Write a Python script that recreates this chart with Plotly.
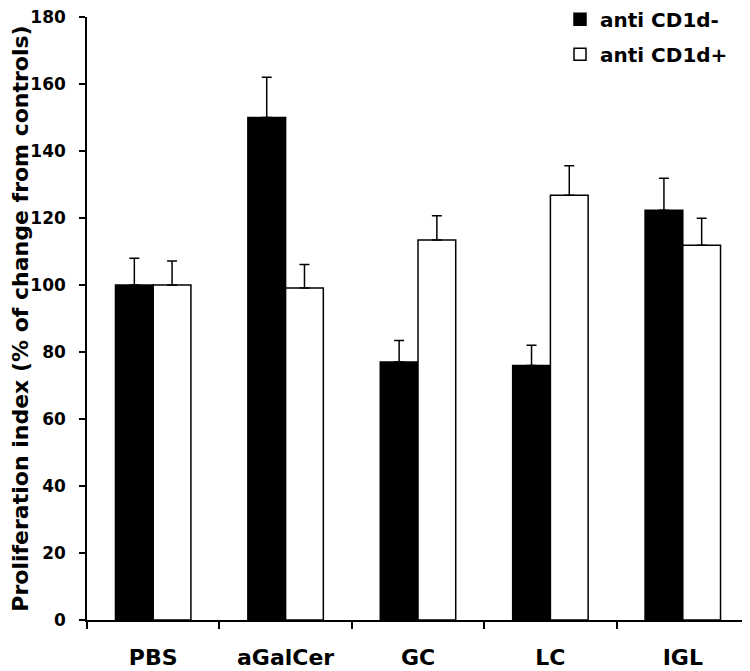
import plotly.graph_objects as go

categories = ["PBS", "aGalCer", "GC", "LC", "IGL"]
series_names = ["anti CD1d-", "anti CD1d+"]
values_neg = [100, 150, 77, 76, 122.3]
errors_neg = [8, 12, 6.4, 6, 9.6]
values_pos = [100, 99.1, 113.4, 126.8, 111.9]
errors_pos = [7.2, 7, 7.3, 8.8, 8]
y_ticks = [0, 20, 40, 60, 80, 100, 120, 140, 160, 180]
y_title = "Proliferation index (% of change from controls)"

FONT = "DejaVu Sans, Liberation Sans, Arial"

fig = go.Figure()
fig.add_trace(go.Bar(
    x=categories, y=values_neg, name=series_names[0], legendgroup="a",
    marker=dict(color="black", line=dict(color="black", width=1.5)),
    error_y=dict(type="data", array=errors_neg, arrayminus=[0]*len(errors_neg),
                 symmetric=False, color="black", thickness=1.5, width=5),
))
fig.add_trace(go.Bar(
    x=categories, y=values_pos, name=series_names[1], legendgroup="b",
    marker=dict(color="white", line=dict(color="black", width=1.5)),
    error_y=dict(type="data", array=errors_pos, arrayminus=[0]*len(errors_pos),
                 symmetric=False, color="black", thickness=1.5, width=5),
))

# page body has an 8px margin, so the figure is sized/offset to compensate
fig.update_layout(
    width=742, height=663,
    margin=dict(l=79, r=1, t=9, b=51, autoexpand=False),
    paper_bgcolor="white", plot_bgcolor="white",
    barmode="group", bargap=0.43, bargroupgap=0,
    font=dict(family=FONT, color="black"),
    showlegend=True,
    legend=dict(x=0.7145, y=1.0286, xanchor="left", yanchor="top",
                font=dict(size=20, family=FONT, weight="bold"),
                traceorder="grouped", tracegroupgap=6,
                bgcolor="rgba(0,0,0,0)"),
    xaxis=dict(
        automargin=False,
        showline=True, linecolor="black", linewidth=1.5,
        ticks="outside", ticklen=7, tickwidth=1.5, tickcolor="black",
        tickson="boundaries", ticklabelstandoff=17,
        tickfont=dict(size=22, family=FONT, weight="bold"),
        showgrid=False, zeroline=False,
    ),
    yaxis=dict(
        automargin=False,
        range=[0, 180], tickvals=y_ticks,
        showline=True, linecolor="black", linewidth=1.5,
        ticks="outside", ticklen=6, tickwidth=1.5, tickcolor="black",
        ticklabelstandoff=10, ticklabeloverflow="allow",
        tickfont=dict(size=17, family=FONT, weight="bold"),
        showgrid=False, zeroline=False,
        title=dict(text=y_title, standoff=16,
                   font=dict(size=22, family=FONT, weight="bold")),
    ),
)

fig.write_html("out.html")
